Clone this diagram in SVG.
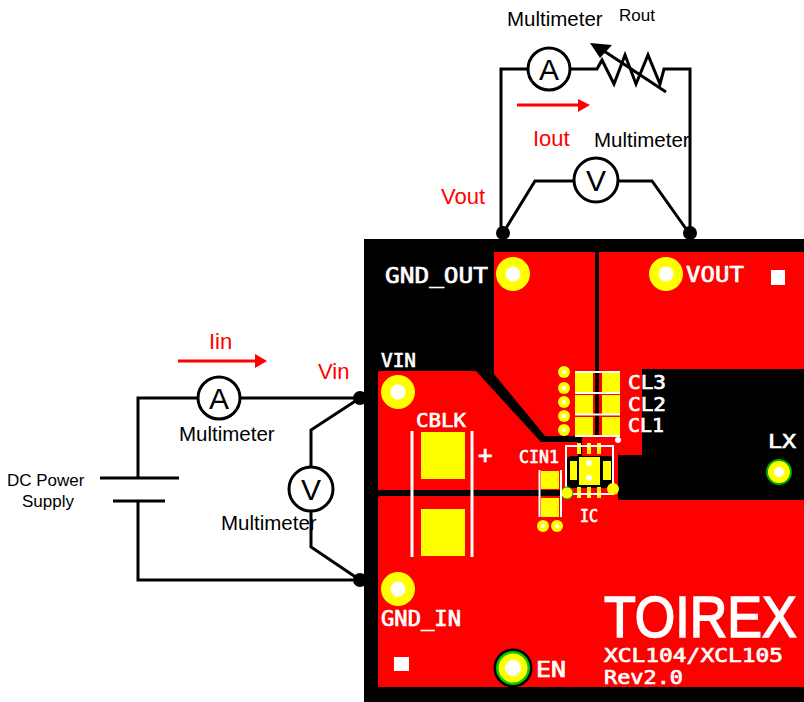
<svg xmlns="http://www.w3.org/2000/svg" width="804" height="702" viewBox="0 0 804 702">
<style>
.w{fill:none;stroke:#000;stroke-width:3}
.m{fill:#fff;stroke:#000;stroke-width:3}
.t{font-family:"Liberation Sans",Arial,sans-serif;font-size:20.500px;fill:#000}
.s{font-family:"Liberation Sans",Arial,sans-serif;font-size:17px;fill:#000}
.r{font-family:"Liberation Sans",Arial,sans-serif;font-size:22px;fill:#f00}
.g{font-family:"Liberation Sans",Arial,sans-serif;font-size:30px;fill:#000;text-anchor:middle}
.k{font-family:"DejaVu Sans Mono","Liberation Mono",monospace;fill:#fff;stroke:#fff;stroke-width:.7px}
.red{fill:#f00}.y{fill:#ff0}.wh{fill:#fff}.ln{stroke:#fff;stroke-width:3;fill:none}
.ra{stroke:#f00;stroke-width:3;fill:none}
</style>
<defs>
<g id="via"><circle r="17" fill="#ff0"/><circle r="7.500" fill="#fff"/></g>
<g id="sv"><circle r="6" fill="#ff0"/><circle r="2" fill="#fff"/></g>
</defs>
<g id="board">
<rect x="364" y="239" width="440" height="463" fill="#000"/>
<path class="red" d="M494 252H595V436H545L494 374Z"/>
<path class="red" d="M599 252H804V369H642V455H618V470H582V436H599Z"/>
<path class="red" d="M380 371H476L541 442H618V492H380Q378 492 378 490V373Q378 371 380 371Z"/>
<path class="red" d="M380 496H545V490H618V500H804V687H378V498Q378 496 380 496Z"/>
<path d="M378 490H563V496H378Z" fill="#000"/>
<path d="M545 437.500H582V457H578V441.500H545Z" fill="#000"/>
<path d="M599 436H595V441H599Z" fill="#f00"/>
</g>
<g id="pads">
<rect x="421" y="432" width="44" height="47" class="y"/>
<rect x="421" y="509" width="44" height="47" class="y"/>
<path class="ln" d="M412 431V557M472 431V557"/>
<use href="#via" x="513" y="274"/>
<use href="#via" x="666" y="274"/>
<use href="#via" x="398" y="392"/>
<use href="#via" x="398" y="589"/>
<circle cx="779" cy="472" r="12" fill="#ff0" stroke="#0a0" stroke-width="2"/><circle cx="779" cy="472" r="5" fill="#fff"/>
<circle cx="513" cy="668" r="19.500" fill="#000"/><circle cx="513" cy="668" r="17" fill="#0c0"/><circle cx="513" cy="668" r="14.500" fill="#ff0"/><circle cx="513" cy="668" r="8" fill="#fff"/>
<rect x="771" y="270" width="14" height="15" class="wh"/>
<rect x="394" y="657" width="15" height="14" class="wh"/>
<g id="cl-pads">
<rect x="575" y="373" width="18" height="19" class="y"/><rect x="602" y="373" width="18" height="19" class="y"/>
<rect x="575" y="395" width="18" height="19" class="y"/><rect x="602" y="395" width="18" height="19" class="y"/>
<rect x="575" y="417" width="18" height="19" class="y"/><rect x="602" y="417" width="18" height="19" class="y"/>
<path class="ln" d="M575 372H620M575 393H620M575 414.500H620M575 436H620" style="stroke-width:2"/>
</g>
<use href="#sv" x="564" y="372"/><use href="#sv" x="564" y="388"/><use href="#sv" x="564" y="402"/><use href="#sv" x="564" y="416"/><use href="#sv" x="564" y="430"/>
<circle cx="618" cy="440" r="3" fill="#fff"/>
<g id="ic">
<rect x="567" y="456" width="47" height="32" rx="4" fill="#000"/>
<rect x="579" y="457" width="21" height="28" class="y"/>
<rect x="570" y="461" width="7" height="19" class="y"/><rect x="603" y="461" width="8" height="19" class="y"/>
<rect x="577" y="443" width="4" height="11" class="y"/><rect x="587" y="443" width="4" height="11" class="y"/><rect x="597" y="443" width="4" height="11" class="y"/>
<rect x="577" y="487" width="4" height="11" class="y"/><rect x="587" y="487" width="4" height="11" class="y"/><rect x="597" y="487" width="4" height="11" class="y"/>
<rect x="566" y="446" width="47" height="48" fill="none" stroke="#fff" stroke-width="2"/>
<circle cx="589" cy="463" r="3" fill="#fff"/><circle cx="589" cy="478" r="3" fill="#fff"/>
<circle cx="567" cy="493" r="6" fill="#ff0" stroke="#0a0"/><circle cx="613" cy="489" r="6" fill="#ff0"/>
</g>
<g id="cin1">
<rect x="541" y="471" width="18" height="18" class="y"/><rect x="541" y="498" width="18" height="19" class="y"/>
<path class="ln" d="M539.500 470V517M561 470V517" style="stroke-width:2"/>
<use href="#sv" x="543" y="526"/><use href="#sv" x="557" y="526"/>
</g>
</g>
<g id="silk">
<text class="k" x="385" y="283" font-size="22" textLength="103" lengthAdjust="spacingAndGlyphs">GND_OUT</text>
<text class="k" x="686" y="282" font-size="22" textLength="58" lengthAdjust="spacingAndGlyphs">VOUT</text>
<text class="k" x="381" y="367" font-size="20" textLength="35" lengthAdjust="spacingAndGlyphs">VIN</text>
<text class="k" x="416" y="427" font-size="20" textLength="50" lengthAdjust="spacingAndGlyphs">CBLK</text>
<text class="k" x="478" y="463" font-size="24">+</text>
<text class="k" x="519" y="463" font-size="18" textLength="40" lengthAdjust="spacingAndGlyphs">CIN1</text>
<text class="k" x="628" y="389" font-size="19" textLength="38" lengthAdjust="spacingAndGlyphs">CL3</text>
<text class="k" x="628" y="411" font-size="19" textLength="38" lengthAdjust="spacingAndGlyphs">CL2</text>
<text class="k" x="628" y="432" font-size="19" textLength="36" lengthAdjust="spacingAndGlyphs">CL1</text>
<text class="k" x="768" y="448" font-size="20" textLength="28" lengthAdjust="spacingAndGlyphs">LX</text>
<text class="k" x="580" y="522" font-size="17" textLength="18" lengthAdjust="spacingAndGlyphs">IC</text>
<text class="k" x="381" y="626" font-size="21" textLength="80" lengthAdjust="spacingAndGlyphs">GND_IN</text>
<text class="k" x="536" y="677" font-size="21" textLength="30" lengthAdjust="spacingAndGlyphs">EN</text>
<text transform="translate(604 637) scale(1 1.120)" font-family="'Liberation Sans',Arial,sans-serif" font-size="52" fill="#fff" stroke="#fff" stroke-width="1.500">TOIREX</text>
<text class="k" x="604" y="662" font-size="20" textLength="179" lengthAdjust="spacingAndGlyphs">XCL104/XCL105</text>
<text class="k" x="604" y="684" font-size="20" textLength="79" lengthAdjust="spacingAndGlyphs">Rev2.0</text>
</g>
<g id="connectors">
<path class="w" d="M528 69H501V233M570 69H597L602 60L614 84L625 55L636 84L648 55L660 84L664 69H690V233"/>
<path class="w" d="M503 233L535 181H575M617 181H652L689 233"/>
<path class="w" d="M198 398H138V478M138 501V580H360M240 398H360"/>
<path d="M100 478H179M113 501H165" class="w"/>
<path class="w" d="M311 467V430L360 398M311 511V547L360 580"/>
<path d="M666 92L604 51" stroke="#000" stroke-width="3" fill="none"/>
<path d="M590 43L612 45L600 58Z" fill="#000"/>
<circle cx="503" cy="233" r="7" fill="#000"/><circle cx="690" cy="233" r="7" fill="#000"/>
<circle cx="360" cy="398" r="7" fill="#000"/><circle cx="360" cy="580" r="7" fill="#000"/>
<path class="ra" d="M517 105H580"/><path d="M578 99L590 105L578 112Z" fill="#f00"/>
<path class="ra" d="M178 361H257"/><path d="M255 354L267 361L255 368Z" fill="#f00"/>
</g>
<g id="ammeter-out"><circle class="m" cx="549" cy="69" r="21"/><text class="g" x="549" y="80">A</text></g>
<g id="voltmeter-out"><circle class="m" cx="596" cy="180" r="22"/><text class="g" x="596" y="191">V</text></g>
<g id="ammeter-in"><circle class="m" cx="219" cy="398" r="21"/><text class="g" x="219" y="409">A</text></g>
<g id="voltmeter-in"><circle class="m" cx="311" cy="489" r="22"/><text class="g" x="311" y="500">V</text></g>
<g id="labels">
<text class="t" x="507" y="26">Multimeter</text>
<text class="s" x="619" y="21">Rout</text>
<text class="r" x="533" y="146">Iout</text>
<text class="t" x="594" y="147">Multimeter</text>
<text class="r" x="441" y="204">Vout</text>
<text class="r" x="209" y="349">Iin</text>
<text class="r" x="318" y="379">Vin</text>
<text class="t" x="179" y="441">Multimeter</text>
<text class="t" x="221" y="530">Multimeter</text>
<text class="s" x="7" y="486">DC Power</text>
<text class="s" x="22" y="507">Supply</text>
</g>
</svg>
